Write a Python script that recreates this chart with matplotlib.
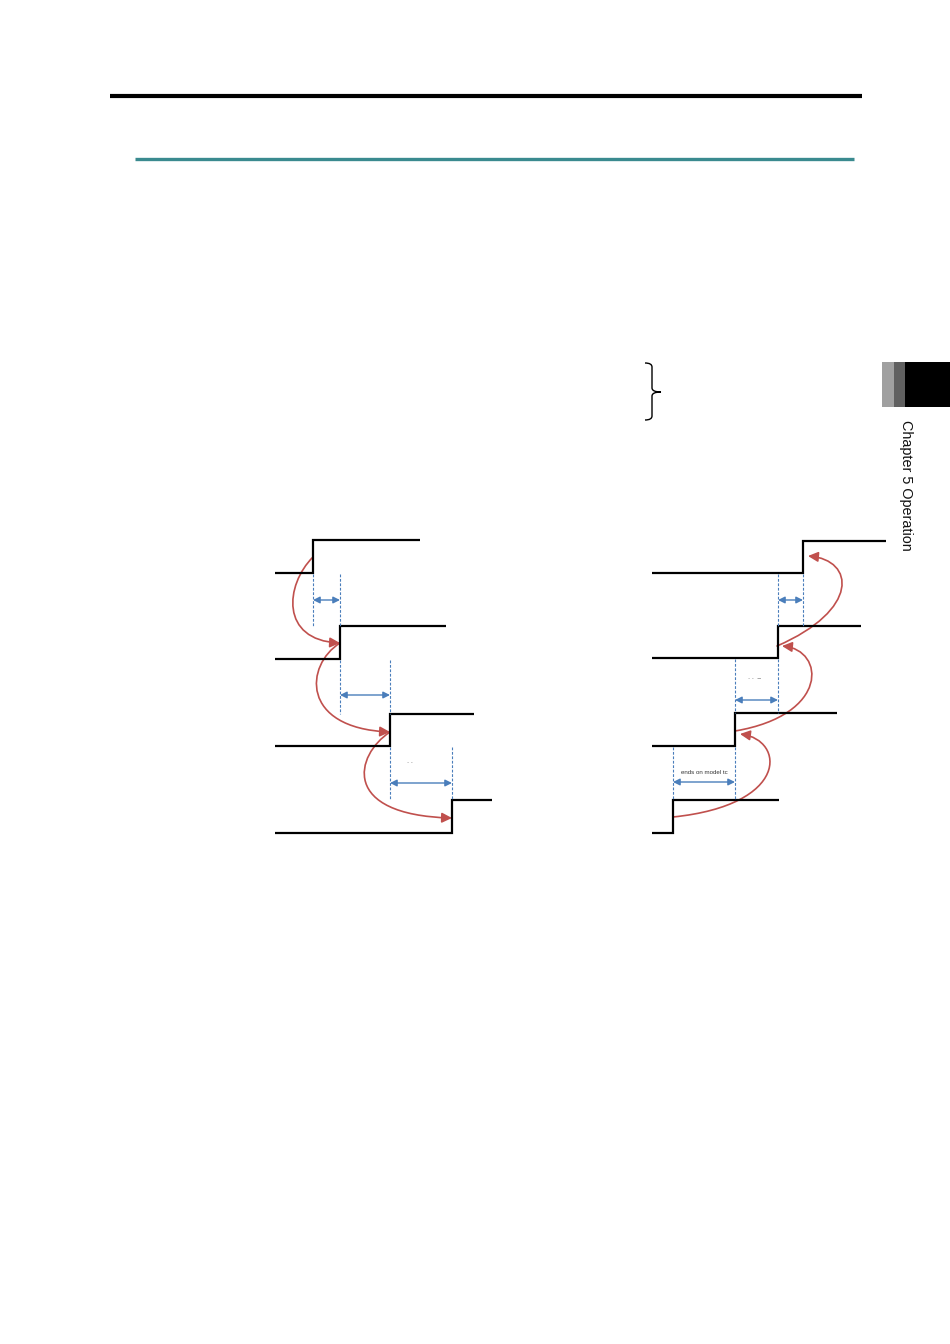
import matplotlib

matplotlib.use("Agg")
import matplotlib.pyplot as plt
from matplotlib.patches import FancyArrowPatch, PathPatch, Rectangle
from matplotlib.path import Path

# --- signal data (page pixel units) ---
LEFT_START = 275
LEFT_RISE = [313, 340, 390, 452]
LEFT_LOW_Y = [573, 659, 746, 833]
LEFT_HIGH_Y = [540, 626, 714, 800]
LEFT_END = [420, 446, 474, 492]
LEFT_ARROW_Y = [600, 695, 783]

RIGHT_START = 652
RIGHT_RISE = [803, 778, 735, 673]
RIGHT_LOW_Y = [573, 658, 746, 833]
RIGHT_HIGH_Y = [541, 626, 713, 800]
RIGHT_END = [886, 861, 837, 779]
RIGHT_ARROW_Y = [600, 700, 782]

# red transition curves: cubic bezier control points
LEFT_CURVES = [
    [(313, 557), (285, 585), (280, 640), (340, 643)],
    [(340, 643), (305, 665), (300, 728), (390, 732)],
    [(390, 732), (355, 755), (340, 815), (452, 818)],
]
RIGHT_CURVES = [
    [(777, 646), (860, 610), (855, 560), (808, 556)],
    [(735, 731), (830, 715), (825, 650), (782, 646)],
    [(673, 817), (790, 805), (785, 740), (740, 734)],
]

BLACK = "#000000"
BLUE = "#4a7ebb"
RED = "#c0504d"
TEAL = "#3a8a8f"

plt.rcParams["font.family"] = ["Liberation Sans", "DejaVu Sans"]

fig = plt.figure(figsize=(9.5, 13.44), dpi=100)
ax = fig.add_axes([0, 0, 1, 1])
ax.set_xlim(0, 950)
ax.set_ylim(1344, 0)
ax.axis("off")

# header rules
ax.plot([110, 862], [96, 96], color=BLACK, lw=3.0, solid_capstyle="butt")
ax.plot([135, 854], [159, 159], color=TEAL, lw=2.4, solid_capstyle="butt")

# brace
brace = Path(
    [(645, 363), (652, 363), (652, 367), (652, 388), (652, 392), (661, 392),
     (652, 392), (652, 396), (652, 416), (652, 420), (645, 420)],
    [Path.MOVETO, Path.CURVE3, Path.CURVE3, Path.LINETO, Path.CURVE3, Path.CURVE3,
     Path.CURVE3, Path.CURVE3, Path.LINETO, Path.CURVE3, Path.CURVE3],
)
ax.add_patch(PathPatch(brace, fill=False, lw=1.0, color=BLACK))

# side tab
ax.add_patch(Rectangle((882, 362), 12, 45, color="#a0a0a0", lw=0))
ax.add_patch(Rectangle((894, 362), 11, 45, color="#606060", lw=0))
ax.add_patch(Rectangle((905, 362), 45, 45, color=BLACK, lw=0))
ax.text(906, 420, "Chapter 5 Operation", rotation=-90, ha="center", va="top",
        fontsize=10.4, color="#111111")


def draw_steps(start, rises, lows, highs, ends):
    for rx, ly, hy, ex in zip(rises, lows, highs, ends):
        ax.plot([start, rx, rx, ex], [ly, ly, hy, hy], color=BLACK, lw=1.6,
                solid_joinstyle="miter", solid_capstyle="butt")


def draw_gaps(rises, lows, highs, arrow_ys):
    for i, ay in enumerate(arrow_ys):
        x0, x1 = sorted([rises[i], rises[i + 1]])
        y0, y1 = lows[i] + 1, highs[i + 1]
        for x in (x0, x1):
            ax.plot([x, x], [y0, y1], color=BLUE, lw=0.8, ls=(0, (2.5, 1.5)))
        ax.annotate("", xy=(x1, ay), xytext=(x0, ay),
                    arrowprops=dict(arrowstyle="<|-|>", color=BLUE, lw=1.0,
                                    mutation_scale=10, shrinkA=0, shrinkB=0))


def draw_curves(curves):
    codes = [Path.MOVETO, Path.CURVE4, Path.CURVE4, Path.CURVE4]
    for pts in curves:
        ax.add_patch(FancyArrowPatch(path=Path(pts, codes), arrowstyle="-|>",
                                     mutation_scale=15, color=RED, lw=1.2))


draw_steps(LEFT_START, LEFT_RISE, LEFT_LOW_Y, LEFT_HIGH_Y, LEFT_END)
draw_gaps(LEFT_RISE, LEFT_LOW_Y, LEFT_HIGH_Y, LEFT_ARROW_Y)
draw_curves(LEFT_CURVES)

draw_steps(RIGHT_START, RIGHT_RISE, RIGHT_LOW_Y, RIGHT_HIGH_Y, RIGHT_END)
draw_gaps(RIGHT_RISE, RIGHT_LOW_Y, RIGHT_HIGH_Y, RIGHT_ARROW_Y)
draw_curves(RIGHT_CURVES)

# tiny clipped labels
ax.text(410, 763, "· ·", ha="center", va="center", fontsize=4.5, color="#222222")
ax.text(755, 678, "· ·  ‒", ha="center", va="center", fontsize=4.5, color="#222222")
ax.text(704, 773, "ends on model tc", ha="center", va="center", fontsize=4.4,
        color="#333333")

fig.savefig("out.png", facecolor="white")
